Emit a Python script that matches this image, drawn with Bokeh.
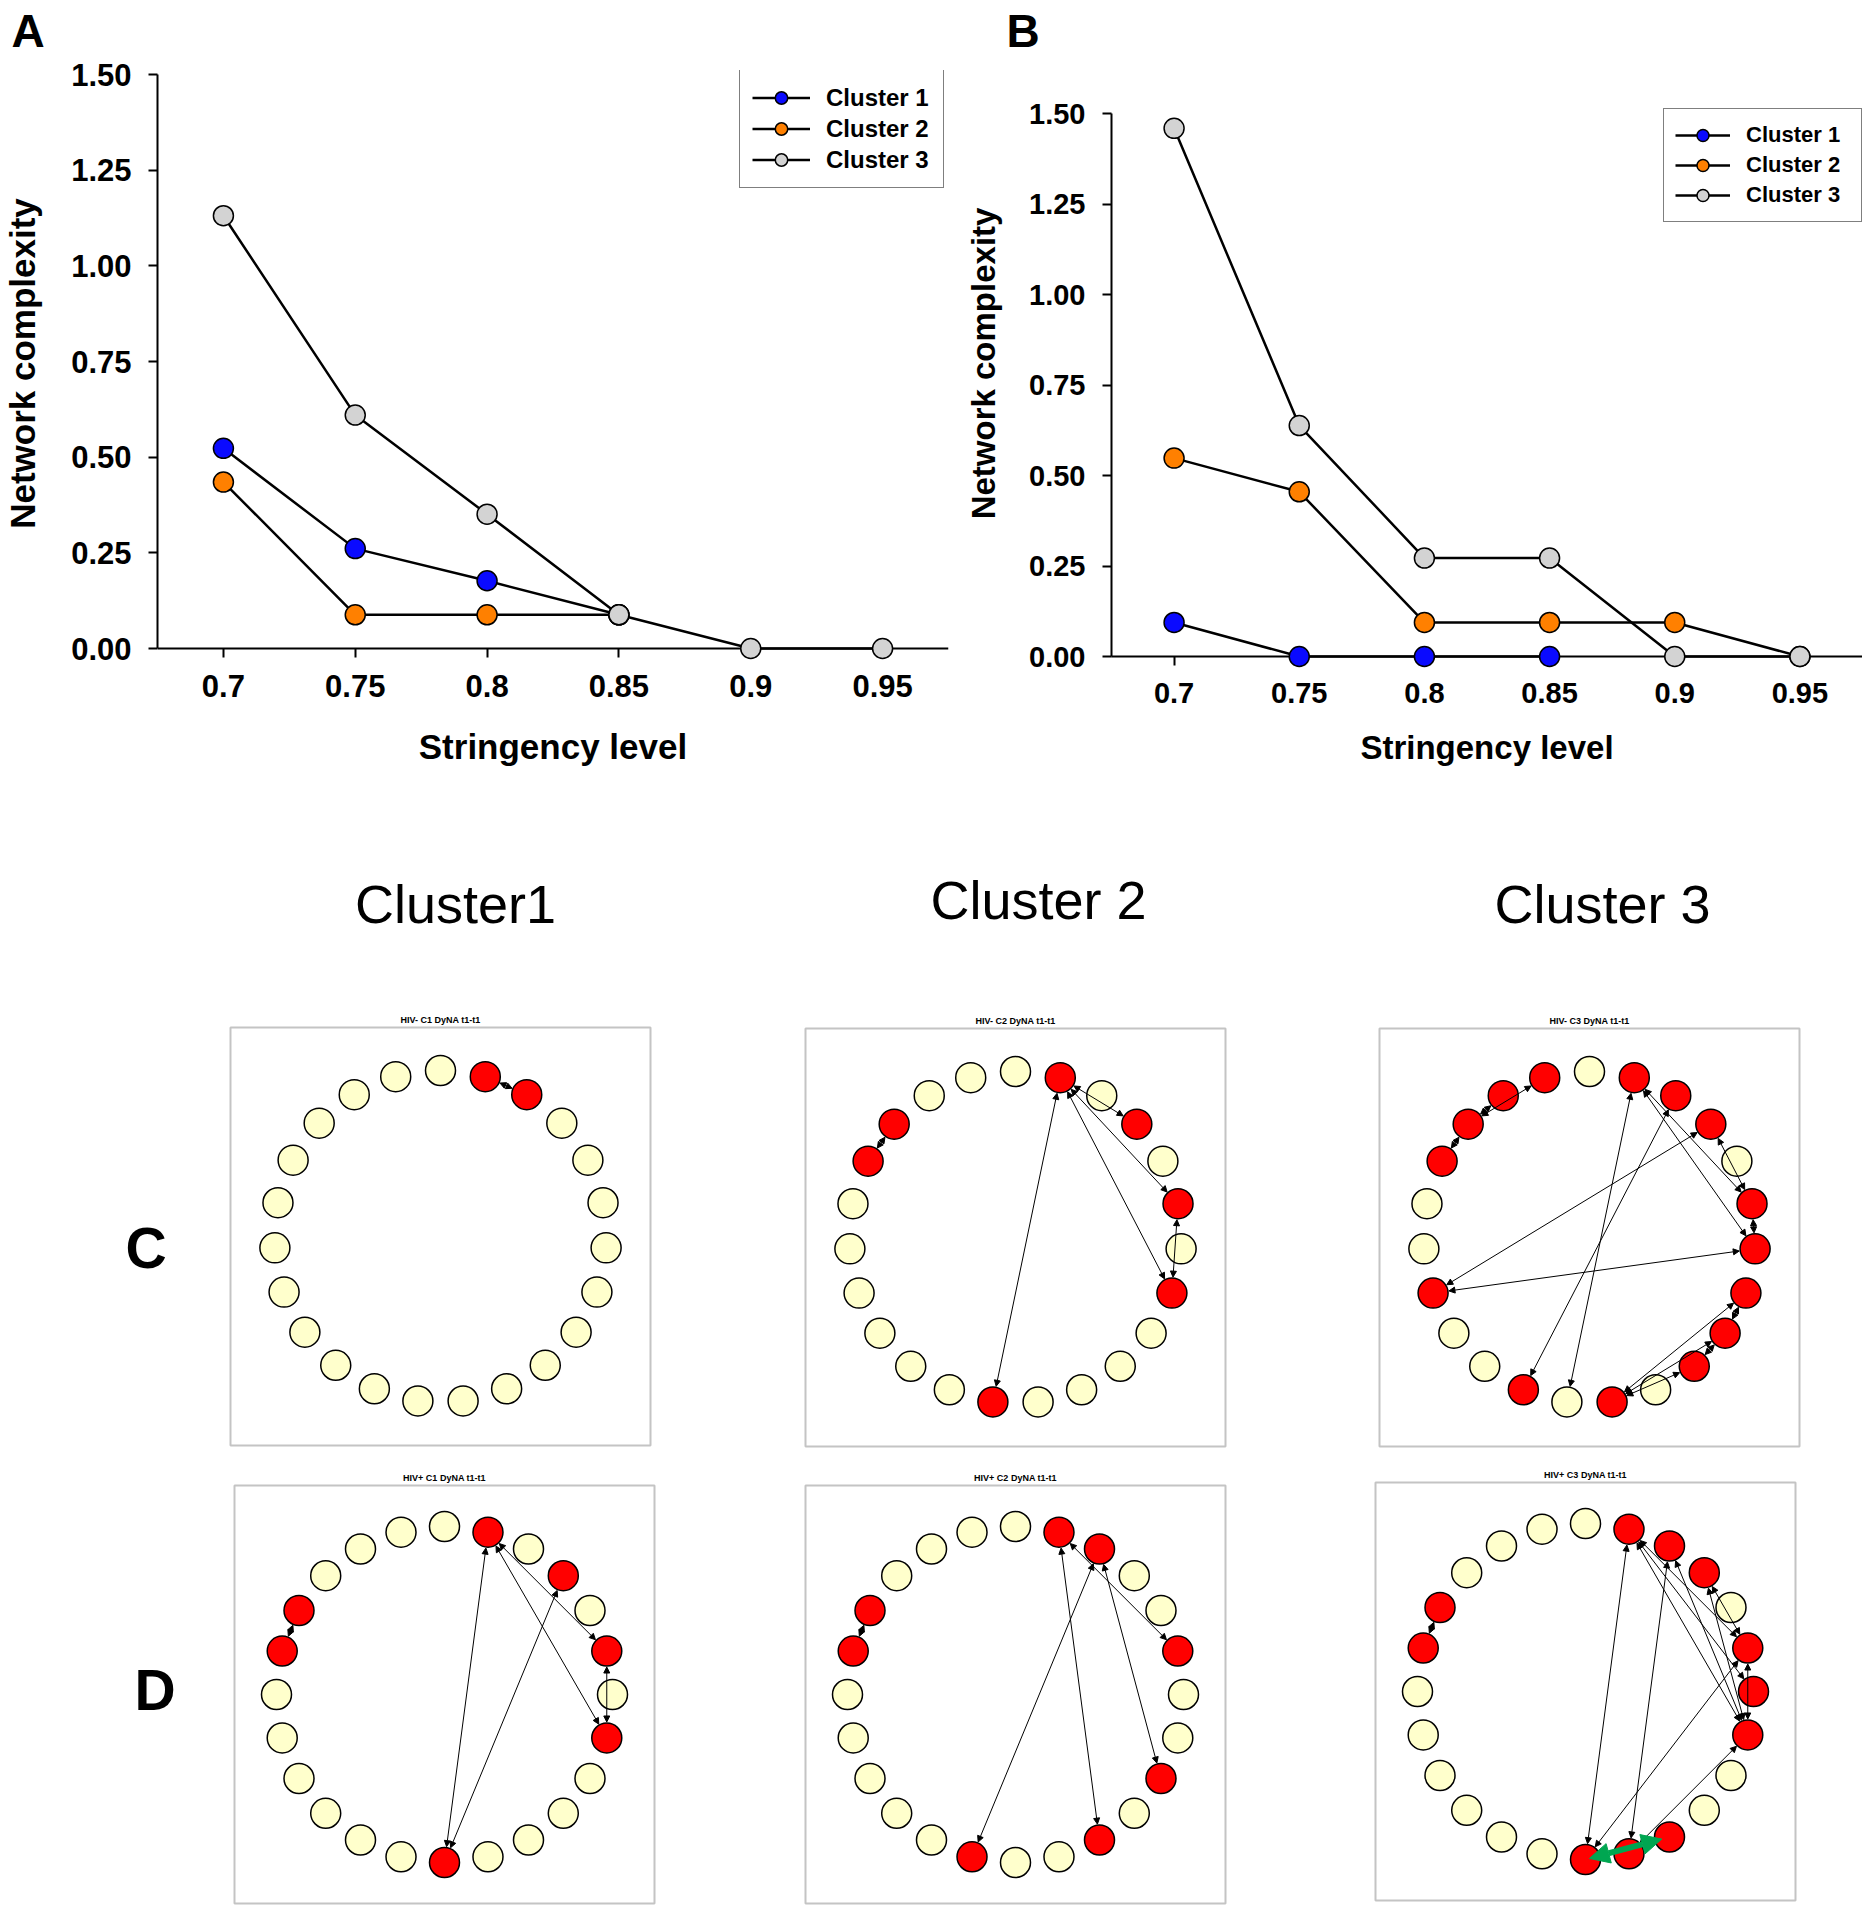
import math
from bokeh.plotting import figure
from bokeh.models import (Range1d, FixedTicker, NumeralTickFormatter, Legend, LegendItem,
                          Arrow, NormalHead, ColumnDataSource, Span)
from bokeh.layouts import column, row
from bokeh.embed import file_html
from bokeh.resources import INLINE
from bokeh.core.properties import value

FONT = "Liberation Sans"

# ---------------- data: panels A and B ----------------
stringency = [0.7, 0.75, 0.8, 0.85, 0.9, 0.95]
x_tick_labels = ["0.7", "0.75", "0.8", "0.85", "0.9", "0.95"]
y_ticks = [0.0, 0.25, 0.5, 0.75, 1.0, 1.25, 1.5]
y_tick_labels = ["0.00", "0.25", "0.50", "0.75", "1.00", "1.25", "1.50"]
series_names = ["Cluster 1", "Cluster 2", "Cluster 3"]
series_colors = ["#0A0AFF", "#FF8000", "#D3D3D3"]
panel_letters = ["A", "B"]

a_cluster1 = [0.523, 0.261, 0.177, 0.088]
a_cluster2 = [0.435, 0.088, 0.088, 0.088]
a_cluster3 = [1.131, 0.610, 0.351, 0.088, 0.0, 0.0]

b_cluster1 = [0.094, 0.0, 0.0, 0.0]
b_cluster2 = [0.548, 0.455, 0.094, 0.094, 0.094, 0.0]
b_cluster3 = [1.459, 0.638, 0.272, 0.272, 0.0, 0.0]

# ---------------- data: networks C and D ----------------
column_titles = ["Cluster1", "Cluster 2", "Cluster 3"]
row_letters = ["C", "D"]
net_titles = ["HIV- C1 DyNA t1-t1", "HIV- C2 DyNA t1-t1", "HIV- C3 DyNA t1-t1",
              "HIV+ C1 DyNA t1-t1", "HIV+ C2 DyNA t1-t1", "HIV+ C3 DyNA t1-t1"]
net_node_count = [23, 23, 23, 24, 24, 24]
net_red_nodes = [
    [1, 2],
    [1, 3, 5, 7, 12, 19, 20],
    [1, 2, 3, 5, 6, 7, 8, 9, 11, 13, 16, 19, 20, 21, 22],
    [1, 3, 5, 7, 12, 19, 20],
    [1, 2, 5, 8, 10, 13, 19, 20],
    [1, 2, 3, 5, 6, 7, 10, 11, 12, 19, 20],
]
net_edges = [
    [(1, 2)],
    [(1, 3), (1, 5), (1, 7), (1, 12), (5, 7), (19, 20)],
    [(1, 12), (2, 13), (1, 5), (1, 6), (3, 16), (6, 16), (3, 5), (5, 6),
     (11, 7), (11, 8), (11, 9), (9, 8), (8, 7), (19, 20), (20, 21), (20, 22)],
    [(1, 12), (3, 12), (1, 5), (1, 7), (5, 7), (19, 20)],
    [(1, 10), (2, 13), (1, 5), (2, 8), (19, 20)],
    [(1, 12), (2, 11), (1, 5), (1, 6), (1, 7), (2, 7), (3, 5), (3, 7), (5, 7),
     (5, 12), (7, 11), (19, 20)],
]
net_green_edges = [[], [], [], [], [], [(12, 10)]]

# ---------------- layout constants (page pixels) ----------------
PAGE_W = 1862
STRIP_H = 56
BOT_TOP = 790
ROW_H = BOT_TOP - STRIP_H
BOT_H = 1912 - BOT_TOP
FRAME_TOP = 70                   # shared frame top of A and B (page y)
FRAME_BOTTOM = 656               # shared frame bottom of A and B (page y)


def make_chart(series, w, bl, br, y0_px, y15_px, tick_fs, lab_fs, leg_fs,
               tick_sx, tick_sy, als_x, als_y, leg):
    ppu = (y0_px - y15_px) / 1.5
    gap = FRAME_BOTTOM - y0_px          # distance of the y=0 line above the frame bottom
    y_start = -gap / ppu
    y_end = 1.5 + (y15_px - FRAME_TOP) / ppu
    p = figure(width=w, height=ROW_H, x_range=Range1d(0.675, 0.975),
               y_range=Range1d(y_start, y_end),
               toolbar_location=None, output_backend="svg",
               min_border_left=bl, min_border_right=br,
               min_border_top=FRAME_TOP - STRIP_H, min_border_bottom=BOT_TOP - FRAME_BOTTOM,
               outline_line_color=None, background_fill_color="white", border_fill_color="white")
    p.grid.visible = False
    xa = p.xaxis[0]
    ya = p.yaxis[0]
    xa.ticker = FixedTicker(ticks=stringency)
    xa.formatter = NumeralTickFormatter(format="0.0[0]")
    xa.major_label_overrides = {t: s for t, s in zip(stringency, x_tick_labels)}
    ya.ticker = FixedTicker(ticks=y_ticks)
    ya.formatter = NumeralTickFormatter(format="0.00")
    ya.major_label_overrides = {t: s for t, s in zip(y_ticks, y_tick_labels)}
    ya.bounds = (0, 1.5)
    xa.axis_label = "Stringency level"
    ya.axis_label = "Network complexity"
    for ax in (xa, ya):
        ax.axis_line_color = "black"
        ax.axis_line_width = 2
        ax.major_tick_line_color = "black"
        ax.major_tick_line_width = 2
        ax.major_tick_out = 9
        ax.major_tick_in = 0
        ax.minor_tick_line_color = None
        ax.major_label_text_font = FONT
        ax.major_label_text_font_size = f"{tick_fs}px"
        ax.major_label_text_font_style = "bold"
        ax.major_label_text_color = "black"
        ax.axis_label_text_font = FONT
        ax.axis_label_text_font_size = f"{lab_fs}px"
        ax.axis_label_text_font_style = "bold"
        ax.axis_label_text_color = "black"
    if gap > 0:
        # the x axis line sits at y = 0, a few pixels above the frame bottom
        xa.axis_line_color = None
        xa.major_tick_in = gap
        xa.major_tick_out = max(9 - gap, 1)
        p.add_layout(Span(location=0, dimension="width", line_color="black", line_width=2))
    xa.major_label_standoff = tick_sx
    ya.major_label_standoff = tick_sy
    xa.axis_label_standoff = als_x
    ya.axis_label_standoff = als_y

    line_rs = []
    for vals in series:
        xs = stringency[:len(vals)]
        line_rs.append(p.line(xs, vals, line_color="black", line_width=2.5, level="overlay"))
    mark_rs = []
    for vals, col in zip(series, series_colors):
        xs = stringency[:len(vals)]
        mark_rs.append(p.scatter(xs, vals, size=20, fill_color=col, line_color="black",
                                 line_width=1.5, level="overlay"))

    items = [LegendItem(label=n, renderers=[lr, mr])
             for n, lr, mr in zip(series_names, line_rs, mark_rs)]
    legend = Legend(items=items, location=leg["loc"], orientation="vertical",
                    glyph_width=leg["gw"], glyph_height=leg["gh"], spacing=0,
                    padding=leg["pad"], margin=0, label_standoff=leg["ls"],
                    label_width=leg["lw"], label_height=10,
                    label_text_font=FONT, label_text_font_size=f"{leg_fs}px",
                    label_text_font_style="bold", label_text_color="black",
                    border_line_color="black", border_line_width=1.5,
                    background_fill_color="white", background_fill_alpha=1.0)
    p.add_layout(legend)
    return p


pA = make_chart([a_cluster1, a_cluster2, a_cluster3], w=952, bl=156, br=4,
                y0_px=648, y15_px=74, tick_fs=31, lab_fs=35, leg_fs=24,
                tick_sx=17, tick_sy=17, als_x=27, als_y=26,
                leg=dict(loc=(582, 468), gw=58, gh=31, pad=12, ls=16, lw=105))
pB = make_chart([b_cluster1, b_cluster2, b_cluster3], w=910, bl=159, br=0,
                y0_px=656, y15_px=113, tick_fs=29, lab_fs=33, leg_fs=22,
                tick_sx=17, tick_sy=17, als_x=23, als_y=24,
                leg=dict(loc=(552, 434), gw=55, gh=30, pad=11, ls=16, lw=104))

# ---------------- top strip with the panel letters ----------------
pS = figure(width=PAGE_W, height=STRIP_H, x_range=Range1d(0, PAGE_W), y_range=Range1d(STRIP_H, 0),
            x_axis_type=None, y_axis_type=None, toolbar_location=None, output_backend="svg",
            min_border=0, min_border_left=0, min_border_right=0, min_border_top=0,
            min_border_bottom=0, outline_line_color=None)
pS.grid.visible = False
pS.text(x=[11, 1006], y=[4.5, 4.5], text=panel_letters, text_font=value(FONT),
        text_font_size="46px", text_font_style="bold", text_align="left",
        text_baseline="top", text_color="black")

# ---------------- bottom: network panels ----------------
pN = figure(width=PAGE_W, height=BOT_H, x_range=Range1d(0, PAGE_W),
            y_range=Range1d(BOT_TOP + BOT_H, BOT_TOP),
            x_axis_type=None, y_axis_type=None, toolbar_location=None, output_backend="svg",
            min_border=0, min_border_left=0, min_border_right=0, min_border_top=0,
            min_border_bottom=0, outline_line_color=None)
pN.grid.visible = False

heading_x = [455, 1038, 1602]
heading_y = [873, 869, 873]
pN.text(x=heading_x, y=heading_y, text=column_titles, text_font=value(FONT),
        text_font_size="54px", text_align="center", text_baseline="top",
        text_color="black")
pN.text(x=[125, 134], y=[1215, 1657], text=row_letters, text_font=value(FONT),
        text_font_size="57px", text_font_style="bold", text_align="left",
        text_baseline="top", text_color="black")

panel_centers = [(440, 1236), (1015, 1237), (1589, 1237), (444, 1694), (1015, 1694), (1585, 1691)]
ring_radius = [166, 166, 166, 168, 168, 168]
NODE_R = 15
BOX_W, BOX_H = 420, 418

pN.rect(x=[c[0] for c in panel_centers], y=[c[1] for c in panel_centers],
        width=BOX_W, height=BOX_H, fill_color=None, line_color="#C4C4C4", line_width=2)
pN.text(x=[c[0] for c in panel_centers], y=[c[1] - BOX_H / 2 - 3 for c in panel_centers],
        text=net_titles, text_font=value(FONT), text_font_size="9px",
        text_font_style="bold", text_align="center", text_baseline="bottom",
        text_color="black")


def node_xy(k, i):
    n = net_node_count[k]
    cx, cy = panel_centers[k]
    r = ring_radius[k]
    th = 2 * math.pi * i / n
    return cx + r * math.sin(th), cy - r * math.cos(th)


def edge_source(k, edges, shrink_a, shrink_b):
    xs0, ys0, xs1, ys1 = [], [], [], []
    for a, b in edges:
        x0, y0 = node_xy(k, a)
        x1, y1 = node_xy(k, b)
        d = math.hypot(x1 - x0, y1 - y0)
        ux, uy = (x1 - x0) / d, (y1 - y0) / d
        xs0.append(x0 + ux * shrink_a)
        ys0.append(y0 + uy * shrink_a)
        xs1.append(x1 - ux * shrink_b)
        ys1.append(y1 - uy * shrink_b)
    return ColumnDataSource(dict(x_start=xs0, y_start=ys0, x_end=xs1, y_end=ys1))


for k in range(6):
    n = net_node_count[k]
    nx, ny, nc = [], [], []
    for i in range(n):
        x, y = node_xy(k, i)
        nx.append(x)
        ny.append(y)
        nc.append("#FF0000" if i in net_red_nodes[k] else "#FFFFCC")
    pN.circle(x=nx, y=ny, radius=NODE_R, fill_color=nc, line_color="black", line_width=1.5)
    if net_edges[k]:
        src = edge_source(k, net_edges[k], NODE_R + 1, NODE_R + 1)
        pN.add_layout(Arrow(source=src, x_start="x_start", y_start="y_start",
                            x_end="x_end", y_end="y_end", line_color="black", line_width=1,
                            start=NormalHead(size=6, fill_color="black", line_color="black"),
                            end=NormalHead(size=6, fill_color="black", line_color="black")))
    if net_green_edges[k]:
        src = edge_source(k, net_green_edges[k], 4, 8)
        pN.add_layout(Arrow(source=src, x_start="x_start", y_start="y_start",
                            x_end="x_end", y_end="y_end", line_color="#00A651", line_width=6,
                            start=NormalHead(size=20, fill_color="#00A651", line_color="#00A651"),
                            end=NormalHead(size=20, fill_color="#00A651", line_color="#00A651")))

page = column(pS, row(pA, pB, spacing=0), pN, spacing=0)
open("out.html", "w").write(file_html(page, INLINE))
